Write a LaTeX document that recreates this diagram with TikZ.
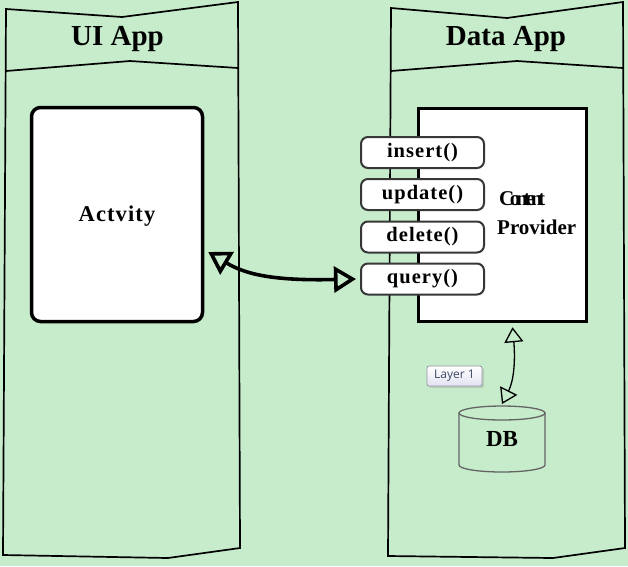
\documentclass[tikz,border=0pt]{standalone}
\usepackage{fontspec}
\setmainfont{Liberation Serif}
\newfontfamily\spacedfont[LetterSpace=5]{Liberation Serif}
\newfontfamily\tightfont[LetterSpace=-21]{Liberation Serif}
\newfontfamily\uifont{Open Sans}
\usetikzlibrary{arrows.meta,shadows,calc}
\definecolor{bg}{RGB}{199,236,204}
\definecolor{btnline}{RGB}{55,55,55}
\definecolor{dbline}{RGB}{100,100,100}
\definecolor{tipfill}{RGB}{226,226,242}
\definecolor{tipline}{RGB}{150,150,165}
\definecolor{tiptext}{RGB}{60,72,100}
\tikzset{
  colshape/.style={draw=black, line width=1.7pt, line join=miter},
  hdr/.style={font=\fontsize{29}{31}\selectfont\bfseries, inner sep=0pt, anchor=base},
  actbox/.style={draw=black, line width=3.5pt, fill=white, rounded corners=9pt,
    minimum width=171pt, minimum height=214pt, inner sep=0pt},
  cpbox/.style={draw=black, line width=3.5pt, fill=white,
    minimum width=168pt, minimum height=213pt, inner sep=0pt},
  method/.style={draw=btnline, line width=2pt, fill=white, rounded corners=7pt,
    minimum width=123pt, minimum height=31pt, inner sep=0pt,
    font=\spacedfont\bfseries\fontsize{20.5}{22}\selectfont},
  cptext/.style={font=\fontsize{21}{23}\selectfont\bfseries, inner sep=0pt, anchor=base west},
  bigarrow/.style={line width=3.6pt,
    {Triangle[open,length=22pt,width=26pt]}-{Triangle[open,length=22pt,width=26pt]}},
  smallarrow/.style={line width=1.3pt,
    {Triangle[open,length=15pt,width=19pt]}-{Triangle[open,length=15pt,width=19pt]}},
  dbstyle/.style={draw=dbline, line width=1.3pt},
  layerbox/.style={draw=tipline, line width=0.8pt, top color=white, bottom color=tipfill,
    rounded corners=2pt, minimum width=55pt, minimum height=20pt, inner sep=0pt,
    text=tiptext, font=\uifont\fontsize{12}{13}\selectfont,
    drop shadow={opacity=0.25, shadow xshift=2pt, shadow yshift=-2pt}}
}
\begin{document}
\begin{tikzpicture}[x=1pt,y=-1pt]
\fill[bg] (0,0) rectangle (628,566);
\useasboundingbox (0,0) rectangle (628,566);

% columns
\draw[colshape] (6,9) -- (122,17) -- (238,2) -- (240,548) -- (168,558) -- (3,555) -- cycle;
\draw[colshape] (6,71) -- (130,61) -- (238,68);
\draw[colshape] (391,8) -- (507,18) -- (623,2) -- (625,548) -- (553,558) -- (388,556) -- cycle;
\draw[colshape] (391,71) -- (517,61) -- (623,68);

\node[hdr] (uititle) at (117.5,45) {UI App};
\node[hdr] (datatitle) at (506,45) {Data App};

% activity
\node[actbox] (act) at (117,214.5) {};
\node[font=\spacedfont\bfseries\fontsize{22.5}{24}\selectfont, inner sep=0pt, anchor=base] (acttext) at (117,221) {Actvity};

% content provider
\node[cpbox] (cp) at (502.5,215) {};
\node[cptext, font=\tightfont\bfseries\fontsize{21}{23}\selectfont] (cp1) at (499,205) {Content};
\node[cptext] (cp2) at (497,234) {Provider};

% methods
\node[method] (insert) at (422.5,152.5) {insert()};
\node[method] (update) at (422.5,194.5) {update()};
\node[method] (delete) at (422.5,237) {delete()};
\node[method] (query) at (422.5,279) {query()};

% big arrow
\draw[bigarrow] ($(act.east)+(4,37.5)$) .. controls (245,274) and (272,281) .. ($(query.west)+(-4,0)$);

% DB
\node[minimum width=86pt, minimum height=66pt, inner sep=0pt, outer sep=0pt,
  font=\fontsize{23}{25}\selectfont\bfseries] (db) at (502,439) {DB};
\draw[dbstyle] ($(db.north west)+(0,7)$) -- ($(db.south west)+(0,-7)$)
  arc[start angle=180, end angle=360, x radius=43pt, y radius=7pt] -- ($(db.north east)+(0,7)$);
\draw[dbstyle] ($(db.north)+(0,7)$) ellipse [x radius=43pt, y radius=7pt];

% small arrow
\draw[smallarrow] ($(cp.south)+(10,4)$) .. controls (515,355) and (515,378) .. ($(db.north)+(0,-2)$);

% tooltip
\node[layerbox] (layer) at (454.5,376) {Layer 1};
\end{tikzpicture}
\end{document}
